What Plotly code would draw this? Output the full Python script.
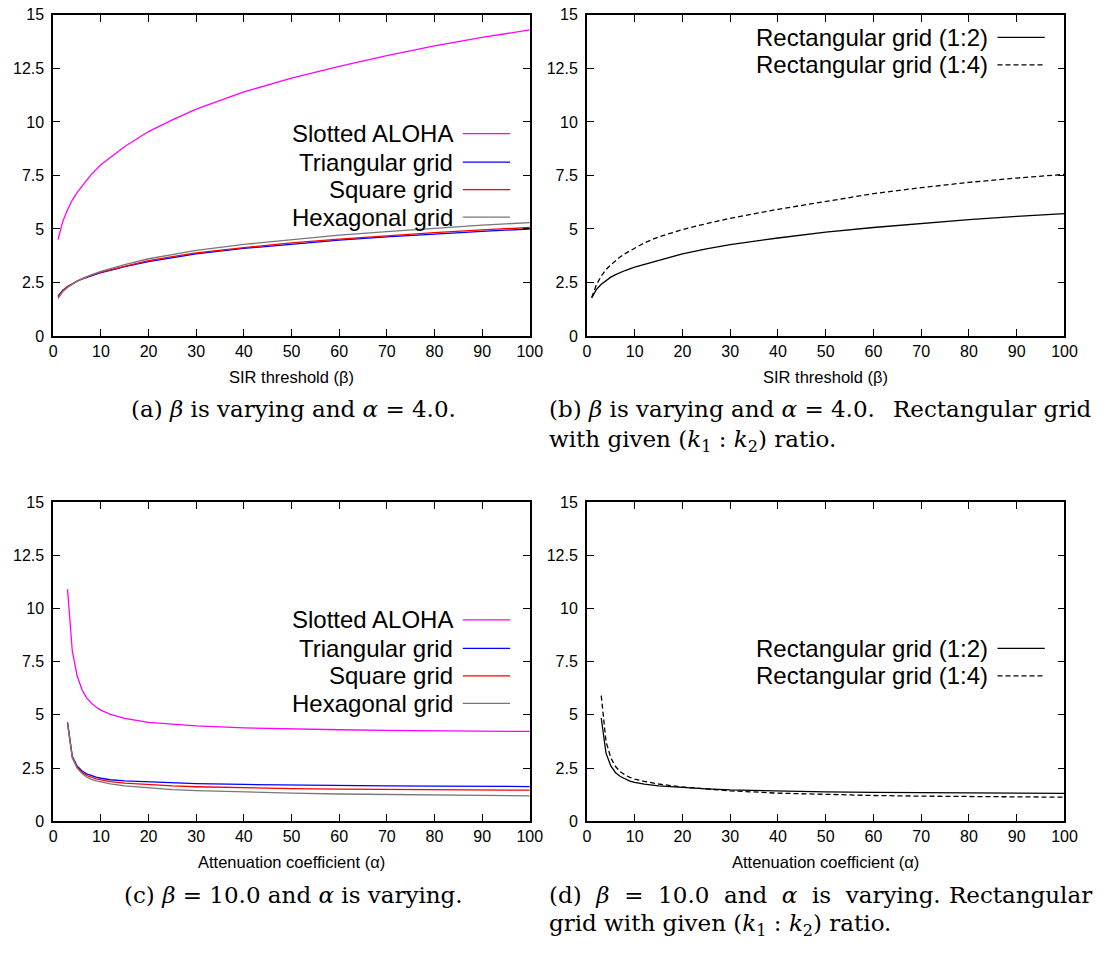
import plotly.graph_objects as go

W, H = 1108, 954

# ---- data -------------------------------------------------------------
# (a) beta varying, alpha = 4.0
beta = [1, 2, 3, 4, 5, 6, 7, 8, 10, 12, 15, 20, 25, 30, 40, 50, 60, 70, 80, 90, 100]
aloha_beta = [4.5, 5.35, 5.9, 6.35, 6.7, 7.0, 7.3, 7.55, 8.0, 8.35, 8.85, 9.55, 10.1,
              10.6, 11.4, 12.05, 12.6, 13.1, 13.55, 13.95, 14.3]
tri_beta = [1.86, 2.14, 2.31, 2.45, 2.56, 2.66, 2.74, 2.82, 2.96, 3.07, 3.24, 3.48, 3.67,
            3.84, 4.09, 4.3, 4.48, 4.63, 4.77, 4.89, 5.0]
sq_beta = [1.82, 2.12, 2.3, 2.45, 2.57, 2.67, 2.76, 2.84, 2.99, 3.1, 3.27, 3.52, 3.71,
           3.88, 4.13, 4.35, 4.53, 4.69, 4.83, 4.96, 5.07]
hex_beta = [1.75, 2.07, 2.27, 2.43, 2.56, 2.67, 2.77, 2.86, 3.02, 3.15, 3.34, 3.61, 3.82,
            4.0, 4.28, 4.51, 4.71, 4.88, 5.04, 5.18, 5.3]

# (b) rectangular grids, beta varying
rect12_beta = [1.78, 2.18, 2.42, 2.6, 2.75, 2.87, 2.97, 3.06, 3.22, 3.35, 3.55, 3.84, 4.07,
               4.27, 4.58, 4.85, 5.07, 5.26, 5.44, 5.59, 5.72]
rect14_beta = [1.8, 2.4, 2.8, 3.1, 3.33, 3.52, 3.7, 3.85, 4.12, 4.35, 4.63, 4.97, 5.25,
               5.5, 5.92, 6.3, 6.65, 6.93, 7.18, 7.38, 7.55]

# (c) beta = 10.0, alpha varying
alpha = [3, 4, 5, 6, 7, 8, 9, 10, 12, 15, 20, 25, 30, 40, 50, 60, 70, 80, 90, 100]
aloha_alpha = [10.9, 8.0, 6.85, 6.2, 5.8, 5.55, 5.37, 5.22, 5.02, 4.83, 4.65, 4.55, 4.48,
               4.39, 4.33, 4.3, 4.27, 4.25, 4.23, 4.22]
tri_alpha = [4.65, 3.05, 2.6, 2.37, 2.23, 2.14, 2.07, 2.02, 1.95, 1.9, 1.85, 1.8, 1.77,
             1.73, 1.7, 1.68, 1.66, 1.65, 1.64, 1.63]
sq_alpha = [4.63, 3.0, 2.55, 2.31, 2.15, 2.06, 1.99, 1.94, 1.86, 1.79, 1.71, 1.66, 1.62,
            1.56, 1.53, 1.51, 1.49, 1.48, 1.47, 1.46]
hex_alpha = [4.6, 2.98, 2.5, 2.25, 2.08, 1.97, 1.9, 1.85, 1.76, 1.66, 1.56, 1.49, 1.44,
             1.37, 1.32, 1.28, 1.25, 1.23, 1.21, 1.19]

# (d) rectangular grids, alpha varying
rect12_alpha = [4.85, 3.2, 2.6, 2.28, 2.1, 1.98, 1.89, 1.83, 1.74, 1.66, 1.58, 1.52, 1.47,
                1.41, 1.38, 1.36, 1.34, 1.33, 1.32, 1.31]
rect14_alpha = [5.9, 3.75, 2.98, 2.57, 2.33, 2.17, 2.06, 1.98, 1.87, 1.75, 1.61, 1.51, 1.43,
                1.32, 1.25, 1.21, 1.18, 1.16, 1.14, 1.13]

x_ticks = list(range(0, 101, 10))
y_ticks = [0, 2.5, 5, 7.5, 10, 12.5, 15]

# ---- styles -----------------------------------------------------------
SANS = "Liberation Sans"
SERIF = "DejaVu Serif"
MAGENTA, BLUE, RED, GRAY, BLACK = "#ff00ff", "#0000ff", "#ff0000", "#777777", "#000000"
LW = 1.3
DASH = "5px,3px"


def px(x):
    return x / W


def py(y):
    return 1 - y / H


# panel boxes in pixel coordinates: (left, right, top, bottom)
boxes = {
    "1": (50, 534, 7, 334),
    "2": (592, 1077, 7, 334),
    "3": (50, 534, 503, 828),
    "4": (592, 1077, 503, 828),
}

fig = go.Figure()


def add_line(k, xs, ys, color, dash="solid", name=""):
    fig.add_trace(go.Scatter(
        x=xs, y=ys, mode="lines", name=name, showlegend=False,
        line=dict(color=color, width=LW, dash=dash),
        xaxis="x" + ("" if k == "1" else k), yaxis="y" + ("" if k == "1" else k),
    ))


add_line("1", beta, aloha_beta, MAGENTA, name="Slotted ALOHA")
add_line("1", beta, tri_beta, BLUE, name="Triangular grid")
add_line("1", beta, sq_beta, RED, name="Square grid")
add_line("1", beta, hex_beta, GRAY, name="Hexagonal grid")

add_line("2", beta, rect12_beta, BLACK, name="Rectangular grid (1:2)")
add_line("2", beta, rect14_beta, BLACK, dash=DASH, name="Rectangular grid (1:4)")

add_line("3", alpha, aloha_alpha, MAGENTA, name="Slotted ALOHA")
add_line("3", alpha, tri_alpha, BLUE, name="Triangular grid")
add_line("3", alpha, sq_alpha, RED, name="Square grid")
add_line("3", alpha, hex_alpha, GRAY, name="Hexagonal grid")

add_line("4", alpha, rect12_alpha, BLACK, name="Rectangular grid (1:2)")
add_line("4", alpha, rect14_alpha, BLACK, dash=DASH, name="Rectangular grid (1:4)")

axis_common = dict(
    showline=True, linecolor="black", linewidth=1.8, mirror="ticks",
    ticks="inside", ticklen=7, tickwidth=1.3, tickcolor="black",
    showgrid=False, zeroline=False,
    tickfont=dict(family=SANS, size=16, color="black"),
)

layout = dict(
    width=W, height=H, margin=dict(l=0, r=0, t=0, b=0),
    paper_bgcolor="white", plot_bgcolor="white", showlegend=False,
)
for k, (l, r, t, b) in boxes.items():
    sx = "" if k == "1" else k
    layout["xaxis" + sx] = dict(
        axis_common, domain=[px(l), px(r)], range=[0, 100],
        tickvals=x_ticks, anchor="y" + sx,
    )
    layout["yaxis" + sx] = dict(
        axis_common, domain=[py(b), py(t)], range=[0, 15],
        tickvals=y_ticks, anchor="x" + sx, ticklabelstandoff=4,
    )
fig.update_layout(**layout)

# ---- axis titles -------------------------------------------------------
titles = [
    ("1", "SIR threshold (β)", 376),
    ("2", "SIR threshold (β)", 376),
    ("3", "Attenuation coefficient (α)", 870),
    ("4", "Attenuation coefficient (α)", 870),
]
for k, text, yy in titles:
    l, r, _, _ = boxes[k]
    fig.add_annotation(x=px((l + r) / 2), y=py(yy), xref="paper", yref="paper",
                       text=text, showarrow=False, xanchor="center", yanchor="middle",
                       font=dict(family=SANS, size=16.5, color="black"))

# ---- legends (text right-aligned, line sample on the right) ------------
def legend(k, entries, rows):
    l, r, _, _ = boxes[k]
    text_right = r - 76
    x0, x1 = r - 68, r - 20
    for (label, color, dash), yy in zip(entries, rows):
        fig.add_annotation(x=px(text_right), y=py(yy), xref="paper", yref="paper",
                           text=label, showarrow=False, xanchor="right", yanchor="middle",
                           font=dict(family=SANS, size=24, color="black"))
        fig.add_shape(type="line", xref="paper", yref="paper",
                      x0=px(x0), x1=px(x1), y0=py(yy), y1=py(yy),
                      line=dict(color=color, width=LW, dash=dash))


grid_entries = [
    ("Slotted ALOHA", MAGENTA, "solid"),
    ("Triangular grid", BLUE, "solid"),
    ("Square grid", RED, "solid"),
    ("Hexagonal grid", GRAY, "solid"),
]
rect_entries = [
    ("Rectangular grid (1:2)", BLACK, "solid"),
    ("Rectangular grid (1:4)", BLACK, DASH),
]
legend("1", grid_entries, [128, 157, 185, 213])
legend("2", rect_entries, [30, 58])
legend("3", grid_entries, [623, 652, 680, 708])
legend("4", rect_entries, [652, 680])

# ---- captions ----------------------------------------------------------
def caption(text, x, yy, anchor):
    fig.add_annotation(x=px(x), y=py(yy), xref="paper", yref="paper",
                       text=text, showarrow=False, xanchor=anchor, yanchor="middle",
                       font=dict(family=SERIF, size=23, color="black"))


caption("(a) <i>β</i> is varying and <i>α</i> = 4.0.", 294, 408, "center")
caption("(b) <i>β</i> is varying and <i>α</i> = 4.0.", 551, 408, "left")
caption("Rectangular grid", 1107, 408, "right")
caption("with given (<i>k</i><sub>1</sub> : <i>k</i><sub>2</sub>) ratio.", 551, 441, "left")
caption("(c) <i>β</i> = 10.0 and <i>α</i> is varying.", 294, 903, "center")
caption("(d)  <i>β</i>  =  10.0  and  <i>α</i>  is  varying.", 551, 903, "left")
caption("Rectangular", 1107, 903, "right")
caption("grid with given (<i>k</i><sub>1</sub> : <i>k</i><sub>2</sub>) ratio.", 551, 934, "left")

# page body without default margin so the figure sits at the window origin
fig.write_html("out.html", post_script="document.body.style.margin='0';")
